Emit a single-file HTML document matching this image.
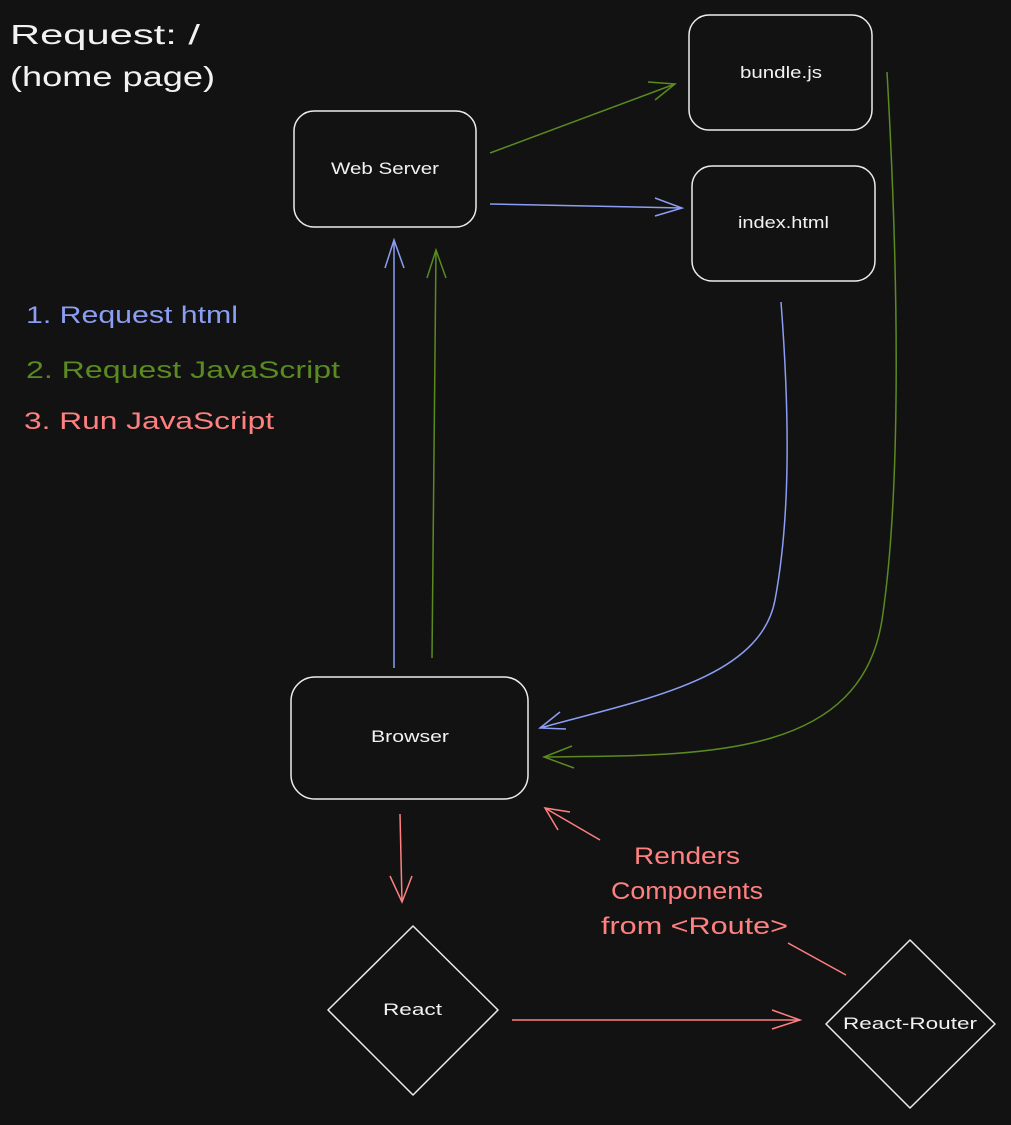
<!DOCTYPE html>
<html><head><meta charset="utf-8"><style>
html,body{margin:0;padding:0;background:#121212;}
svg{display:block}
text{font-family:"Liberation Sans",sans-serif;}
</style></head><body>
<svg width="1011" height="1125" viewBox="0 0 1011 1125" xmlns="http://www.w3.org/2000/svg">
<rect width="1011" height="1125" fill="#121212"/>
<g fill="none" stroke="#ececec" stroke-width="1.5">
<rect x="294" y="111" width="182" height="116" rx="20"/>
<rect x="689" y="15" width="183" height="115" rx="20"/>
<rect x="692" y="166" width="183" height="115" rx="20"/>
<rect x="291" y="677" width="237" height="122" rx="24"/>
<path d="M413 926 L498 1010 L413 1095 L328 1010 Z" stroke-linejoin="round"/>
<path d="M910 940 L995 1024 L910 1108 L826 1024 Z" stroke-linejoin="round"/>
</g>
<g font-size="28" fill="#f2f2f2">
<text x="10" y="44" textLength="190" lengthAdjust="spacingAndGlyphs">Request: /</text>
<text x="10" y="86" textLength="205" lengthAdjust="spacingAndGlyphs">(home page)</text>
</g>
<g font-size="17" fill="#f2f2f2">
<text x="331" y="174" textLength="108" lengthAdjust="spacingAndGlyphs">Web Server</text>
<text x="740" y="78" textLength="82" lengthAdjust="spacingAndGlyphs">bundle.js</text>
<text x="738" y="228" textLength="91" lengthAdjust="spacingAndGlyphs">index.html</text>
<text x="371" y="742" textLength="78" lengthAdjust="spacingAndGlyphs">Browser</text>
<text x="383" y="1015" textLength="59" lengthAdjust="spacingAndGlyphs">React</text>
<text x="843" y="1029" textLength="134" lengthAdjust="spacingAndGlyphs">React-Router</text>
</g>
<g font-size="24">
<text x="26" y="323" fill="#8c9ef3" textLength="212" lengthAdjust="spacingAndGlyphs">1. Request html</text>
<text x="26" y="378" fill="#5a8a20" textLength="314" lengthAdjust="spacingAndGlyphs">2. Request JavaScript</text>
<text x="24" y="429" fill="#ff8080" textLength="250" lengthAdjust="spacingAndGlyphs">3. Run JavaScript</text>
</g>
<g font-size="24" fill="#ff8080">
<text x="634" y="864" textLength="106" lengthAdjust="spacingAndGlyphs">Renders</text>
<text x="611" y="899" textLength="152" lengthAdjust="spacingAndGlyphs">Components</text>
<text x="601" y="934" textLength="187" lengthAdjust="spacingAndGlyphs">from &lt;Route&gt;</text>
</g>
<g fill="none" stroke="#8c9ef3" stroke-width="1.5">
<path d="M490 204 L682 208"/><path d="M655 198 L682 208 L655 216"/>
<path d="M394 668 L394 240"/><path d="M385 268 L394 240 L404 268"/>
<path d="M781 302 C790 420 790 520 775 600 C760 680 640 700 540 728"/><path d="M560 712 L540 728 L566 729"/>
</g>
<g fill="none" stroke="#5a8a20" stroke-width="1.5">
<path d="M490 153 L675 84"/><path d="M648 82 L675 84 L655 100"/>
<path d="M432 658 L436 250"/><path d="M427 278 L436 250 L446 278"/>
<path d="M887 72 C900 300 900 500 882 620 C860 760 700 755 544 757"/><path d="M572 746 L544 757 L574 768"/>
</g>
<g fill="none" stroke="#ff8080" stroke-width="1.5">
<path d="M400 814 L402 902"/><path d="M390 876 L402 902 L412 876"/>
<path d="M512 1020 L800 1020"/><path d="M772 1010 L800 1020 L772 1029"/>
<path d="M600 840 L545 808"/><path d="M558 830 L545 808 L570 812"/>
<path d="M846 975 L788 943"/>
</g>
</svg>
</body></html>
